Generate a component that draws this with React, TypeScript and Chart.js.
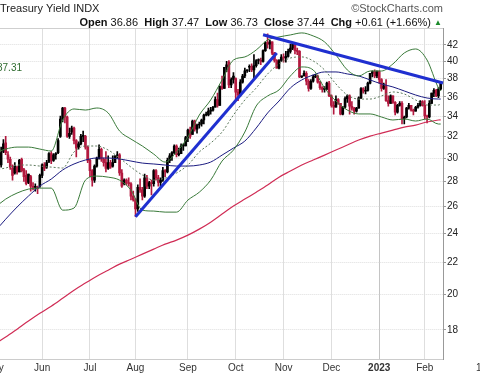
import { useEffect, useRef } from 'react';
import { Chart, registerables } from 'chart.js';

Chart.register(...registerables);

// ---------- categories (trading days) ----------
const monthTags = ['May', 'Jun', 'Jul', 'Aug', 'Sep', 'Oct', 'Nov', 'Dec', 'Jan', 'Feb'];
const monthTickLabels = ['May', 'Jun', 'Jul', 'Aug', 'Sep', 'Oct', 'Nov', 'Dec', '2023', 'Feb'];
const monthDays: number[][] = [
  [2, 3, 4, 5, 6, 9, 10, 11, 12, 13, 16, 17, 18, 19, 20, 23, 24, 25, 26, 27, 31],
  [1, 2, 3, 6, 7, 8, 9, 10, 13, 14, 15, 16, 17, 21, 22, 23, 24, 27, 28, 29, 30],
  [1, 5, 6, 7, 8, 11, 12, 13, 14, 15, 18, 19, 20, 21, 22, 25, 26, 27, 28, 29],
  [1, 2, 3, 4, 5, 8, 9, 10, 11, 12, 15, 16, 17, 18, 19, 22, 23, 24, 25, 26, 29, 30, 31],
  [1, 2, 6, 7, 8, 9, 12, 13, 14, 15, 16, 19, 20, 21, 22, 23, 26, 27, 28, 29, 30],
  [3, 4, 5, 6, 7, 10, 11, 12, 13, 14, 17, 18, 19, 20, 21, 24, 25, 26, 27, 28, 31],
  [1, 2, 3, 4, 7, 8, 9, 10, 11, 14, 15, 16, 17, 18, 21, 22, 23, 25, 28, 29, 30],
  [1, 2, 5, 6, 7, 8, 9, 12, 13, 14, 15, 16, 19, 20, 21, 22, 23, 27, 28, 29, 30],
  [3, 4, 5, 6, 9, 10, 11, 12, 13, 17, 18, 19, 20, 23, 24, 25, 26, 27, 30, 31],
  [1, 2, 3, 6, 7, 8, 9, 10],
];

// ---------- OHLC (yield x10) ----------
const openValues = [
  29.4, 30.0, 29.6, 29.4, 30.6, 31.4, 30.3, 29.9, 29.1, 28.7, 29.2, 28.8, 29.9, 29.0, 28.5, 27.9, 28.4, 27.5, 27.5, 27.5, 27.6,
  28.5, 29.4, 29.2, 29.7, 30.4, 29.8, 30.3, 30.5, 32.0, 33.7, 34.8, 33.9, 32.0, 32.4, 32.8, 31.6, 31.0, 31.3, 32.0, 32.0, 31.0,
  29.8, 28.9, 28.1, 29.3, 30.0, 30.8, 29.9, 29.6, 29.1, 29.6, 29.3, 29.6, 30.2, 30.3, 28.7, 27.8, 28.1, 27.9, 27.8, 26.8,
  26.5, 25.8, 27.5, 27.3, 26.8, 28.3, 27.6, 27.9, 27.8, 28.9, 28.3, 27.9, 28.1, 28.9, 28.8, 29.8, 30.2, 30.5, 31.1, 30.3, 30.4, 31.1, 31.1,
  31.9, 32.6, 32.2, 33.5, 32.7, 33.1, 33.2, 33.6, 34.1, 34.1, 34.5, 34.6, 34.9, 35.7, 35.1, 37.1, 36.9, 39.3, 39.9, 37.3, 37.9,
  38.0, 36.5, 36.2, 37.6, 38.3, 38.9, 39.3, 39.4, 39.0, 39.5, 40.1, 40.1, 40.0, 41.3, 42.3, 42.1, 42.4, 41.0, 40.1, 39.2, 40.1,
  40.5, 40.4, 40.6, 41.2, 41.6, 42.1, 41.3, 41.2, 38.2, 38.3, 38.6, 37.7, 36.9, 37.7, 38.2, 38.3, 37.6, 37.0, 36.8, 36.8, 37.5,
  36.1, 35.1, 34.9, 35.7, 35.3, 34.2, 34.9, 35.8, 36.1, 35.0, 34.8, 34.5, 34.8, 35.9, 36.9, 36.6, 36.7, 37.5, 38.6, 38.8, 38.3,
  38.8, 37.9, 36.9, 37.2, 35.6, 35.3, 36.1, 35.4, 34.4, 35.1, 35.3, 33.7, 33.9, 34.8, 35.1, 34.6, 34.5, 34.9, 35.1, 35.5,
  35.1, 34.0, 33.9, 35.3, 36.4, 36.7, 36.1, 36.86,
];
const highValues = [
  30.0, 30.1, 30.0, 31.0, 31.7, 32.0, 30.6, 30.1, 29.4, 29.6, 29.3, 29.9, 30.0, 29.1, 28.9, 28.6, 28.5, 27.9, 27.8, 27.6, 28.6,
  29.5, 29.6, 29.8, 30.5, 30.6, 30.4, 30.5, 31.8, 34.0, 34.9, 34.9, 34.0, 32.8, 33.0, 32.9, 31.7, 31.5, 32.2, 32.5, 32.1, 31.1,
  29.9, 29.0, 29.4, 30.1, 31.2, 30.9, 30.0, 30.6, 30.2, 29.8, 30.2, 30.2, 30.6, 30.4, 29.0, 28.2, 28.2, 28.3, 27.9, 27.2,
  26.6, 27.7, 28.2, 27.5, 28.6, 28.5, 28.0, 28.1, 29.0, 29.0, 28.5, 28.3, 29.2, 29.0, 30.0, 30.4, 30.6, 31.2, 31.2, 30.9, 31.3, 31.3, 32.0,
  32.7, 32.9, 33.6, 33.6, 33.2, 33.4, 33.7, 34.2, 34.4, 34.8, 34.9, 35.0, 36.0, 36.4, 37.2, 38.3, 39.3, 40.0, 40.1, 38.1, 38.7,
  38.1, 36.8, 37.9, 38.5, 39.2, 39.0, 39.6, 39.7, 40.8, 40.2, 40.3, 40.4, 41.4, 42.4, 43.4, 42.6, 42.4, 41.1, 40.2, 40.2, 40.8,
  40.9, 41.2, 41.5, 42.1, 42.3, 42.2, 41.6, 41.3, 38.3, 38.9, 38.8, 37.9, 37.9, 38.4, 38.5, 38.4, 37.7, 37.1, 37.1, 37.6, 37.7,
  36.2, 35.5, 36.1, 35.8, 35.3, 35.0, 36.0, 36.2, 36.2, 35.5, 34.9, 34.9, 36.0, 37.0, 37.0, 37.1, 37.6, 38.6, 38.9, 39.0, 38.9,
  38.9, 38.0, 37.5, 37.9, 36.1, 36.2, 36.1, 35.5, 35.2, 35.5, 35.5, 34.0, 34.9, 35.3, 35.1, 34.7, 35.0, 35.3, 35.6, 35.6,
  35.6, 34.1, 35.6, 36.4, 36.9, 36.8, 37.0, 37.47,
];
const lowValues = [
  29.1, 29.4, 29.1, 29.2, 30.5, 30.3, 29.6, 29.0, 28.1, 28.6, 28.6, 28.8, 28.8, 28.0, 27.7, 27.8, 27.2, 27.3, 27.2, 27.0, 27.5,
  28.3, 28.9, 29.1, 29.6, 29.5, 29.7, 29.9, 30.4, 31.9, 33.4, 33.3, 31.9, 31.8, 32.2, 31.3, 30.1, 30.8, 31.2, 31.5, 30.8, 29.6,
  28.4, 27.6, 27.9, 29.2, 29.9, 29.7, 29.3, 28.8, 29.0, 29.1, 29.2, 29.6, 30.0, 28.5, 27.5, 27.7, 27.7, 27.6, 26.5, 26.4,
  25.2, 25.6, 27.1, 26.5, 26.7, 27.4, 27.4, 26.9, 27.6, 28.1, 27.6, 27.6, 28.0, 28.4, 28.7, 29.6, 29.8, 30.4, 30.1, 30.2, 30.4, 30.7, 31.1,
  31.5, 31.8, 32.2, 32.5, 32.3, 32.8, 33.0, 33.2, 34.0, 34.0, 34.2, 34.5, 34.9, 34.9, 35.1, 36.8, 36.9, 38.8, 37.0, 37.0, 37.5,
  35.7, 35.6, 36.0, 37.5, 38.1, 38.7, 38.8, 38.8, 38.1, 39.3, 39.7, 39.6, 39.9, 41.2, 41.6, 41.5, 40.8, 39.9, 39.2, 39.1, 40.0,
  39.9, 39.9, 40.5, 41.0, 41.4, 40.9, 40.8, 38.1, 38.1, 38.3, 37.3, 36.6, 36.8, 37.6, 38.1, 37.5, 36.8, 36.5, 36.5, 36.8, 36.0,
  34.9, 34.2, 34.9, 35.2, 34.1, 34.1, 34.8, 35.4, 34.2, 34.6, 34.2, 34.4, 34.8, 35.8, 36.4, 36.3, 36.6, 37.4, 38.2, 38.1, 38.1,
  37.5, 36.6, 36.8, 35.5, 35.0, 35.3, 35.3, 34.1, 34.3, 35.0, 33.2, 33.2, 33.8, 34.7, 34.5, 34.1, 34.5, 34.8, 35.0, 35.0,
  33.7, 33.3, 33.8, 35.3, 36.0, 36.0, 35.9, 36.73,
];
const closeValues = [
  29.9, 29.6, 29.3, 30.5, 31.3, 30.5, 29.9, 29.2, 28.5, 29.3, 28.8, 29.8, 28.9, 28.4, 27.8, 28.6, 27.6, 27.5, 27.5, 27.4, 28.5,
  29.4, 29.1, 29.6, 30.4, 29.8, 30.3, 30.4, 31.6, 33.7, 34.8, 33.9, 32.0, 32.3, 32.8, 31.6, 30.9, 31.3, 32.0, 32.0, 31.0, 29.8,
  28.9, 28.1, 29.3, 30.0, 30.8, 29.9, 29.6, 29.1, 29.6, 29.2, 29.6, 30.2, 30.3, 28.7, 27.6, 28.1, 27.9, 27.8, 26.8, 26.5,
  25.8, 27.5, 27.3, 26.8, 28.3, 27.6, 27.9, 27.8, 28.9, 28.3, 27.9, 28.1, 28.9, 28.8, 29.8, 30.2, 30.5, 31.1, 30.3, 30.4, 31.1, 31.1, 31.9,
  32.6, 32.0, 33.5, 32.7, 33.1, 33.2, 33.6, 34.1, 34.1, 34.5, 34.5, 34.9, 35.7, 35.1, 37.1, 36.9, 39.3, 39.6, 37.3, 37.9, 38.3,
  36.5, 36.2, 37.6, 38.3, 38.9, 38.9, 39.4, 39.0, 39.5, 40.1, 40.1, 40.0, 41.3, 42.3, 42.1, 42.4, 41.0, 40.1, 39.2, 40.1, 40.5,
  40.4, 40.6, 41.2, 41.6, 42.1, 41.3, 41.2, 38.2, 38.2, 38.6, 37.7, 36.9, 37.7, 38.2, 38.3, 37.6, 37.0, 36.8, 36.8, 37.5, 36.1,
  35.1, 34.9, 35.7, 35.3, 34.2, 34.9, 35.8, 36.1, 35.0, 34.8, 34.5, 34.8, 35.9, 36.9, 36.6, 36.7, 37.5, 38.6, 38.8, 38.3, 38.8,
  37.9, 36.9, 37.2, 35.6, 35.3, 36.1, 35.4, 34.4, 35.1, 35.3, 33.7, 33.9, 34.8, 35.1, 34.6, 34.5, 34.9, 35.1, 35.5, 35.1,
  34.0, 33.9, 35.3, 36.4, 36.7, 36.1, 36.83, 37.44,
];

// ---------- overlays, read at every 5th trading day ----------
const sampleIdx = [0, 5, 10, 15, 20, 25, 30, 35, 40, 45, 50, 55, 60, 65, 70, 75, 80, 85, 90, 95, 100,
  105, 110, 115, 120, 125, 130, 135, 140, 145, 150, 155, 160, 165, 170, 175, 180, 185, 190, 195, 196];
const ma200Values = [17.25, 17.62, 18.04, 18.48, 18.91, 19.32, 19.78, 20.26, 20.69, 21.12, 21.5, 21.89, 22.21, 22.55, 22.89, 23.23, 23.51, 23.86, 24.29, 24.8,
  25.4, 26.01, 26.56, 27.11, 27.69, 28.35, 28.87, 29.39, 29.83, 30.27, 30.73, 31.19, 31.66, 32.03, 32.32, 32.61, 32.9, 33.1, 33.4, 33.6, 33.62];
const ma50Values = [24.07, 25.02, 25.94, 26.8, 27.61, 28.19, 28.96, 29.48, 29.83, 30.01, 30.01, 29.92, 29.74, 29.56, 29.48, 29.39, 29.3, 29.3, 29.39, 29.65,
  30.27, 30.91, 31.56, 32.81, 34.31, 35.55, 36.96, 37.85, 38.41, 38.76, 38.76, 38.53, 38.3, 37.85, 37.4, 37.07, 36.63, 36.19, 35.87, 35.76, 35.76];
const ma20Values = [28.96, 29.13, 29.39, 29.39, 29.3, 29.21, 29.13, 30.55, 31.1, 31.1, 30.73, 30.01, 29.21, 28.53, 28.1, 28.27, 28.7, 29.39, 30.55, 31.37,
  32.42, 34.1, 35.66, 36.96, 38.53, 39.69, 40.4, 40.53, 40.05, 38.99, 37.4, 36.19, 35.76, 35.76, 36.09, 36.52, 36.3, 35.66, 35.13, 35.13, 35.24];
const bbUpperValues = [30.45, 30.82, 31.0, 31.0, 30.82, 30.64, 33.6, 34.72, 34.61, 34.82, 34.31, 32.52, 31.75, 31.1, 30.36, 29.65, 30.55, 31.94, 34.1, 35.66,
  37.85, 40.16, 40.53, 41.38, 42.63, 43.01, 43.27, 43.53, 43.14, 42.38, 40.77, 38.99, 38.3, 38.87, 38.87, 39.69, 41.01, 41.5, 40.16, 36.96, 36.63];
const bbLowerValues = [25.86, 26.56, 27.04, 27.36, 27.44, 27.44, 25.7, 25.86, 28.1, 28.44, 28.35, 28.1, 27.28, 25.7, 25.63, 25.55, 25.55, 26.48, 27.11, 28.1,
  29.74, 30.73, 32.42, 35.03, 36.09, 36.74, 38.3, 39.34, 38.99, 36.96, 35.55, 34.61, 34.21, 34.21, 33.9, 33.6, 33.7, 33.5, 33.7, 33.2, 33.2];

// ---------- trendlines (trading-day index, value) ----------
const upTrendIdx = [62, 124];
const upTrendValues = [25.2, 41.0];
const downTrendIdx = [118, 197];
const downTrendValues = [43.3, 37.5];

// ---------- axis ----------
const yTickValues = [18, 20, 22, 24, 26, 28, 30, 32, 34, 36, 38, 40, 42];
const bbLegendValue = '37.31';

const OX = 20; // canvas is shifted 20px left of the page edge

export default function App() {
  const ref = useRef<HTMLCanvasElement>(null);

  useEffect(() => {
    const labels: string[] = [];
    const monthStart: Record<number, string> = {};
    monthDays.forEach((days, m) => {
      days.forEach((d, k) => {
        if (k === 0) monthStart[labels.length] = monthTickLabels[m];
        labels.push(`${monthTags[m]} ${d}`);
      });
    });
    labels.push('end');

    const colors = closeValues.map((c, i) =>
      c >= (i > 0 ? closeValues[i - 1] : openValues[0]) ? '#000000' : '#b3193f'
    );
    const pts = (xs: number[], ys: number[]) => xs.map((x, i) => ({ x: labels[x], y: ys[i] }));
    const lineBase = {
      type: 'line' as const,
      pointRadius: 0,
      borderWidth: 1,
      fill: false,
      cubicInterpolationMode: 'monotone' as const,
    };

    const last = closeValues.length - 1;
    const chg = closeValues[last] - closeValues[last - 1];
    const chgPct = (chg / closeValues[last - 1]) * 100;

    const textPlugin = {
      id: 'texts',
      afterDraw(chart: any) {
        const ctx = chart.ctx as CanvasRenderingContext2D;
        const area = chart.chartArea;
        ctx.save();
        ctx.strokeStyle = '#cfcfcf';
        ctx.lineWidth = 1;
        ctx.beginPath();
        ctx.moveTo(0, area.top + 0.5);
        ctx.lineTo(area.right, area.top + 0.5);
        ctx.stroke();

        const F = '"Liberation Sans", Arial, sans-serif';
        ctx.textBaseline = 'middle';
        ctx.textAlign = 'left';
        ctx.fillStyle = '#222';
        ctx.font = `11px ${F}`;
        ctx.fillText('Treasury Yield INDX', OX + 0, 9);

        ctx.textAlign = 'right';
        ctx.fillStyle = '#555';
        ctx.fillText('\u00A9StockCharts.com', OX + 443, 9);

        const segs: [string, boolean][] = [
          ['Open', true], [` ${openValues[last].toFixed(2)}  `, false],
          ['High', true], [` ${highValues[last].toFixed(2)}  `, false],
          ['Low', true], [` ${lowValues[last].toFixed(2)}  `, false],
          ['Close', true], [` ${closeValues[last].toFixed(2)}  `, false],
          ['Chg', true], [` ${chg >= 0 ? '+' : ''}${chg.toFixed(2)} (${chgPct >= 0 ? '+' : ''}${chgPct.toFixed(2)}%) `, false],
        ];
        let x = OX + 434;
        ctx.textAlign = 'left';
        ctx.fillStyle = '#1a8a2a';
        ctx.font = `8px ${F}`;
        ctx.fillText('\u25B2', x, 23);
        ctx.fillStyle = '#111';
        for (let i = segs.length - 1; i >= 0; i--) {
          const [t, b] = segs[i];
          ctx.font = `${b ? 'bold ' : ''}11px ${F}`;
          const w = ctx.measureText(t).width;
          x -= w;
          ctx.fillText(t, x, 23);
        }

        ctx.font = `10px ${F}`;
        ctx.fillStyle = '#2e6b2e';
        ctx.fillText(bbLegendValue, OX - 3, 68);

        ctx.fillStyle = '#333';
        ctx.fillText('1', OX + 476, 368);
        ctx.restore();
      },
    };

    const chart = new Chart(ref.current as HTMLCanvasElement, {
      type: 'bar',
      data: {
        labels,
        datasets: [
          {
            ...lineBase, label: 'Up trend', data: pts(upTrendIdx, upTrendValues) as any,
            borderColor: '#1f2fd0', borderWidth: 3, cubicInterpolationMode: 'default', tension: 0, order: 0,
          },
          {
            ...lineBase, label: 'Down trend', data: pts(downTrendIdx, downTrendValues) as any,
            borderColor: '#1f2fd0', borderWidth: 3, cubicInterpolationMode: 'default', tension: 0, order: 0,
          },
          { ...lineBase, label: 'BB upper', data: pts(sampleIdx, bbUpperValues) as any, borderColor: '#3a7a3a', order: 2 },
          { ...lineBase, label: 'BB lower', data: pts(sampleIdx, bbLowerValues) as any, borderColor: '#3a7a3a', order: 2 },
          { ...lineBase, label: 'MA20', data: pts(sampleIdx, ma20Values) as any, borderColor: '#5d7a5d', borderDash: [2, 2], order: 2 },
          { ...lineBase, label: 'MA50', data: pts(sampleIdx, ma50Values) as any, borderColor: '#1b1b80', order: 2 },
          { ...lineBase, label: 'MA200', data: pts(sampleIdx, ma200Values) as any, borderColor: '#d02c55', borderWidth: 1.2, order: 3 },
          {
            type: 'bar', label: 'Range', data: lowValues.map((l, i) => [l, highValues[i]]) as any,
            backgroundColor: colors, barThickness: 1, grouped: false, order: 5,
          },
          {
            type: 'bar', label: 'Body', data: openValues.map((o, i) => [o, closeValues[i]]) as any,
            backgroundColor: colors, barThickness: 2, minBarLength: 1, grouped: false, order: 4,
          },
        ] as any,
      },
      options: {
        responsive: false,
        animation: false,
        devicePixelRatio: 1,
        layout: { padding: { left: 14.3, top: 28, right: 0, bottom: 0 } },
        plugins: { legend: { display: false }, tooltip: { enabled: false }, title: { display: false } },
        scales: {
          x: {
            type: 'category',
            offset: false,
            grid: {
              offset: false,
              drawTicks: false,
              color: (c: any) => (c.tick && monthStart[c.tick.value] === '2023' ? '#c4c4c4' : '#dedede'),
            },
            border: { color: '#cccccc' },
            ticks: {
              autoSkip: false,
              maxRotation: 0,
              padding: 3,
              color: '#333',
              font: (c: any) => ({
                family: '"Liberation Sans", Arial, sans-serif',
                size: 10,
                weight: c.tick && monthStart[c.tick.value] === '2023' ? 'bold' : 'normal',
              }),
              callback: (v: any) => monthStart[v as number] ?? '',
            },
            afterBuildTicks: (s: any) => {
              s.ticks = Object.keys(monthStart).map((k) => ({ value: Number(k) }));
            },
            afterFit: (s: any) => {
              s.height = 17;
              s.paddingLeft = 0;
              s.paddingRight = 0;
            },
          } as any,
          y: {
            type: 'logarithmic',
            position: 'right',
            min: 16.51,
            max: 44.17,
            bounds: 'data',
            grid: { color: '#dedede', tickLength: 3, tickColor: '#999', drawTicks: true },
            border: { display: true, color: '#999', dash: [1, 1] },
            ticks: {
              padding: 1,
              color: '#222',
              font: { family: '"Liberation Sans", Arial, sans-serif', size: 10 },
              callback: (v: any) => String(v),
            },
            afterBuildTicks: (s: any) => {
              s.ticks = yTickValues.map((v) => ({ value: v }));
            },
            afterFit: (s: any) => {
              s.width = 37;
            },
          } as any,
        },
      },
      plugins: [textPlugin],
    });
    return () => chart.destroy();
  }, []);

  return (
    <div style={{ position: 'absolute', left: 0, top: 0, width: 480, height: 376, overflow: 'hidden', background: '#fff' }}>
      <canvas
        ref={ref}
        width={500}
        height={376}
        style={{ position: 'absolute', left: -OX, top: 0, width: 500, height: 376 }}
      />
    </div>
  );
}
